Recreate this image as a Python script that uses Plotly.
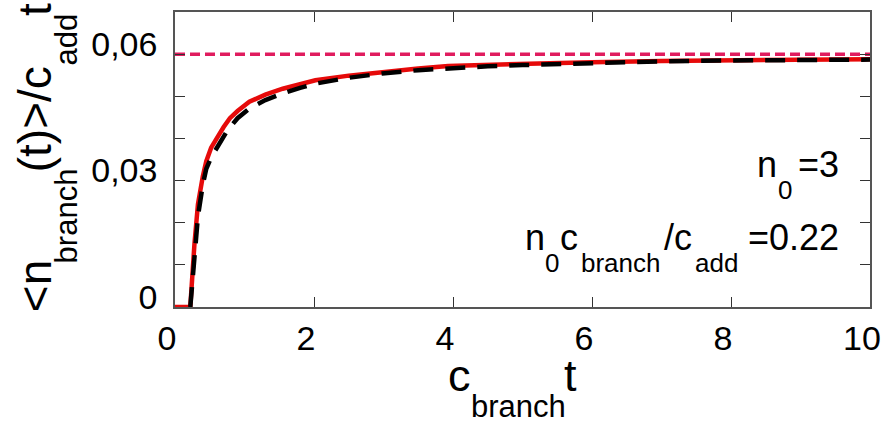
import plotly.graph_objects as go

# Data
t_red = [0.0, 0.22, 0.28, 0.33, 0.40, 0.45, 0.52, 0.60, 0.70, 0.79, 0.90, 1.07, 1.30, 1.55, 1.80, 2.02, 2.5, 2.98, 3.5, 3.93, 4.5, 5.0, 6.0, 7.0, 8.0, 9.0, 10.0]
y_red = [0.0, 0.0, 0.0150, 0.0244, 0.0310, 0.0346, 0.0378, 0.0401, 0.0427, 0.0448, 0.0465, 0.0487, 0.0504, 0.0518, 0.0529, 0.0538, 0.0549, 0.0558, 0.0566, 0.0572, 0.0575, 0.0577, 0.0581, 0.0584, 0.0586, 0.0587, 0.0588]
t_black = [0.22, 0.28, 0.33, 0.40, 0.45, 0.52, 0.64, 0.75, 0.90, 1.07, 1.30, 1.55, 1.80, 2.02, 2.5, 2.98, 3.5, 3.93, 4.5, 5.0, 6.0, 7.0, 8.0, 9.0, 10.0]
y_black = [0.0, 0.0120, 0.0215, 0.0290, 0.0328, 0.0355, 0.0386, 0.0418, 0.0448, 0.0471, 0.0491, 0.0507, 0.0520, 0.0530, 0.0544, 0.0554, 0.0562, 0.0567, 0.0571, 0.0574, 0.0579, 0.0583, 0.0585, 0.0586, 0.0587]
limit_x = [0, 10]
limit_y = [0.06, 0.06]

x_ticks = [0, 2, 4, 6, 8, 10]
y_ticks = [0, 0.01, 0.02, 0.03, 0.04, 0.05, 0.06]
y_ticklabels = ["0", "", "", "0,03", "", "", "0,06"]

FONT = "Liberation Sans, Arial, Helvetica, sans-serif"
W, H = 891, 425
ML, MR, MT, MB = 175, 16, 10, 118
PW, PH = W - ML - MR, H - MT - MB


def px(xp, yp):
    return (xp - ML) / PW, (H - MB - yp) / PH


annotations = []


def label(text, xp, yp, size, xanchor="left", angle=0):
    x, y = px(xp, yp)
    annotations.append(dict(x=x, y=y, xref="paper", yref="paper", text=text,
                            showarrow=False, xanchor=xanchor, yanchor="middle",
                            textangle=angle, font=dict(family=FONT, size=size, color="black")))


# x-axis title: c_branch t
label("c", 448, 376, 45)
label("branch", 471, 407, 31)
label("t", 565, 376, 45)

# y-axis title: <n_branch(t)>/c_add t  (rotated)
label("&lt;n", 34, 286, 46, "center", -90)
label("branch", 66, 215, 31, "center", -90)
label("(t)&gt;/c", 34, 118, 46, "center", -90)
label("add", 66, 38, 31, "center", -90)
label("t", 34, 8, 46, "center", -90)

# n0=3
label("n", 759, 164, 36)
label("0", 780, 189, 26)
label("=3", 846, 164, 36, "right")

# n0 c_branch / c_add = 0.22
label("n", 526, 237, 36)
label("0", 546, 263, 26)
label("c", 561, 237, 36)
label("branch", 582, 263, 26)
label("/c", 665, 237, 36)
label("add", 697, 263, 26)
label("=0.22", 846, 237, 36, "right")

fig = go.Figure()
fig.add_trace(go.Scatter(x=limit_x, y=limit_y, mode="lines",
                         line=dict(color="#e01c5e", width=3.5, dash="10px,5px"), showlegend=False))
fig.add_trace(go.Scatter(x=t_red, y=y_red, mode="lines",
                         line=dict(color="#e60a0a", width=4.5), showlegend=False))
fig.add_trace(go.Scatter(x=t_black, y=y_black, mode="lines",
                         line=dict(color="black", width=4.5, dash="20px,12px"), showlegend=False))

fig.update_layout(
    width=W, height=H,
    margin=dict(l=ML, r=MR, t=MT, b=MB),
    plot_bgcolor="white", paper_bgcolor="white",
    font=dict(family=FONT, size=34, color="black"),
    xaxis=dict(range=[0, 10], tickvals=x_ticks, ticks="inside", ticklen=10,
               tickcolor="#333", showline=True, linecolor="#555", linewidth=1.5,
               mirror="ticks", showgrid=False, zeroline=False,
               tickfont=dict(size=34), ticklabeloverflow="allow",
               ticklabelshift=-8, ticklabelstandoff=0),
    yaxis=dict(range=[0, 0.07], tickvals=y_ticks, ticktext=y_ticklabels,
               ticks="inside", ticklen=10, tickcolor="#333",
               showline=True, linecolor="#555", linewidth=1.5, mirror="ticks",
               showgrid=False, zeroline=False, tickfont=dict(size=34),
               ticklabelshift=-10, ticklabelstandoff=9),
    annotations=annotations,
)

fig.write_html("out.html")
